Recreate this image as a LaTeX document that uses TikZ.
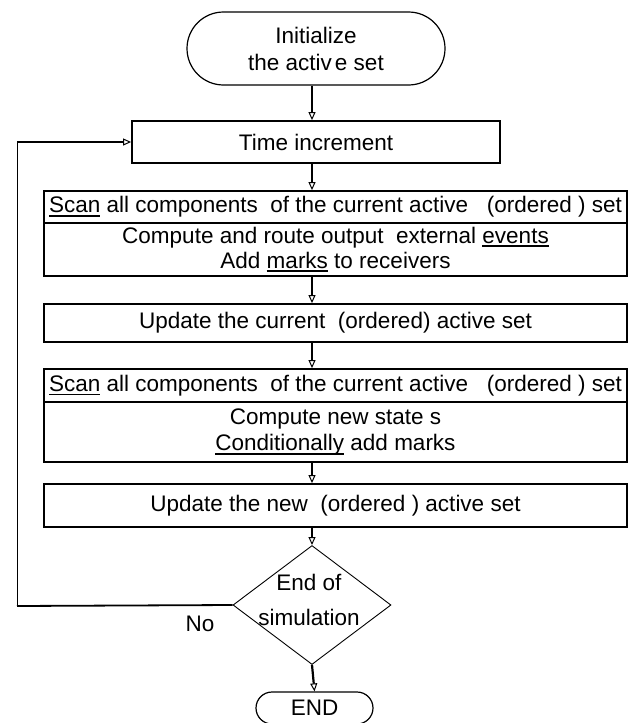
\documentclass[tikz,border=0pt]{standalone}
\usepackage{fontspec}
\setmainfont{Liberation Sans}
\usetikzlibrary{arrows.meta,shapes.geometric,shapes.misc}
% underline with a fixed offset below the baseline
\newcommand\undr[1]{\setbox0\hbox{#1}\rlap{\rule[-4pt]{\wd0}{1.8pt}}\box0\relax}
\begin{document}
\begin{tikzpicture}[x=1pt,y=-1pt,
  txt/.style={font=\fontsize{22.5}{25}\selectfont, align=center, inner sep=0pt},
  box/.style={txt, draw, rectangle, line width=1.8pt},
  term/.style={txt, draw, rounded rectangle, line width=1.2pt},
  arr/.style={line width=2.2pt, -{Triangle[open,length=8pt,width=7pt,line width=1pt]}}]
  \fill[white] (0,0) rectangle (629,723);
  \useasboundingbox (0,0) rectangle (629,723);

  % terminators and process boxes
  \node[term, minimum width=258, minimum height=73,
        font=\fontsize{22.5}{27}\selectfont] (init) at (316,48.5)
        {Initialize\\the activ\kern3pt e set};
  \node[box, minimum width=368, minimum height=42] (time) at (316,142) {Time increment};
  \node[box, minimum width=583, minimum height=32] (scanA) at (335.5,207)
        {\undr{Scan} all components~ of the current active~~ (ordered~) set};
  \node[box, minimum width=583, minimum height=53] (compA) at (335.5,249.5)
        {Compute and route output~ external \undr{events}\\Add \undr{marks} to receivers};
  \node[box, minimum width=583, minimum height=38] (updA) at (335.5,323)
        {Update the current~ (ordered) active set};
  \node[box, minimum width=583, minimum height=33] (scanB) at (335.5,385.5)
        {\undr{Scan} all components~ of the current active~~ (ordered~) set};
  \node[box, minimum width=583, minimum height=60] (compB) at (335.5,432)
        {Compute new state s\\[1pt]\undr{Conditionally} add marks};
  \node[box, minimum width=583, minimum height=43] (updB) at (335.5,505.5)
        {Update the new~ (ordered~) active set};

  % decision
  \node[draw, diamond, line width=0.9pt, minimum width=158, minimum height=119,
        inner sep=0pt] (dec) at (312,605) {};
  \node[txt, font=\fontsize{22.5}{35}\selectfont] (dectext) at (309,600) {End of\\simulation};
  \node[txt] (no) at (200,624) {No};

  \node[term, minimum width=117, minimum height=32] (fin) at (314.5,708) {END};

  % main flow
  \coordinate (ax) at (312,0);
  \draw[arr] (init.south -| ax) -- (time.north -| ax);
  \draw[arr] (time.south -| ax) -- (scanA.north -| ax);
  \draw[arr] (compA.south -| ax) -- (updA.north -| ax);
  \draw[arr] (updA.south -| ax) -- (scanB.north -| ax);
  \draw[arr] (compB.south -| ax) -- (updB.north -| ax);
  \draw[arr] (updB.south -| ax) -- (dec.north);
  \draw[arr] (dec.south) -- (fin.north);

  % loop back on "No"
  \coordinate (lb) at (17,606);
  \coordinate (lt) at (17,142);
  \draw[line width=1.8pt] (dec.west) -- (lb);
  \draw[line width=1pt] (lb) -- (lt);
  \draw[arr] (lt) -- (time.west);
\end{tikzpicture}
\end{document}
